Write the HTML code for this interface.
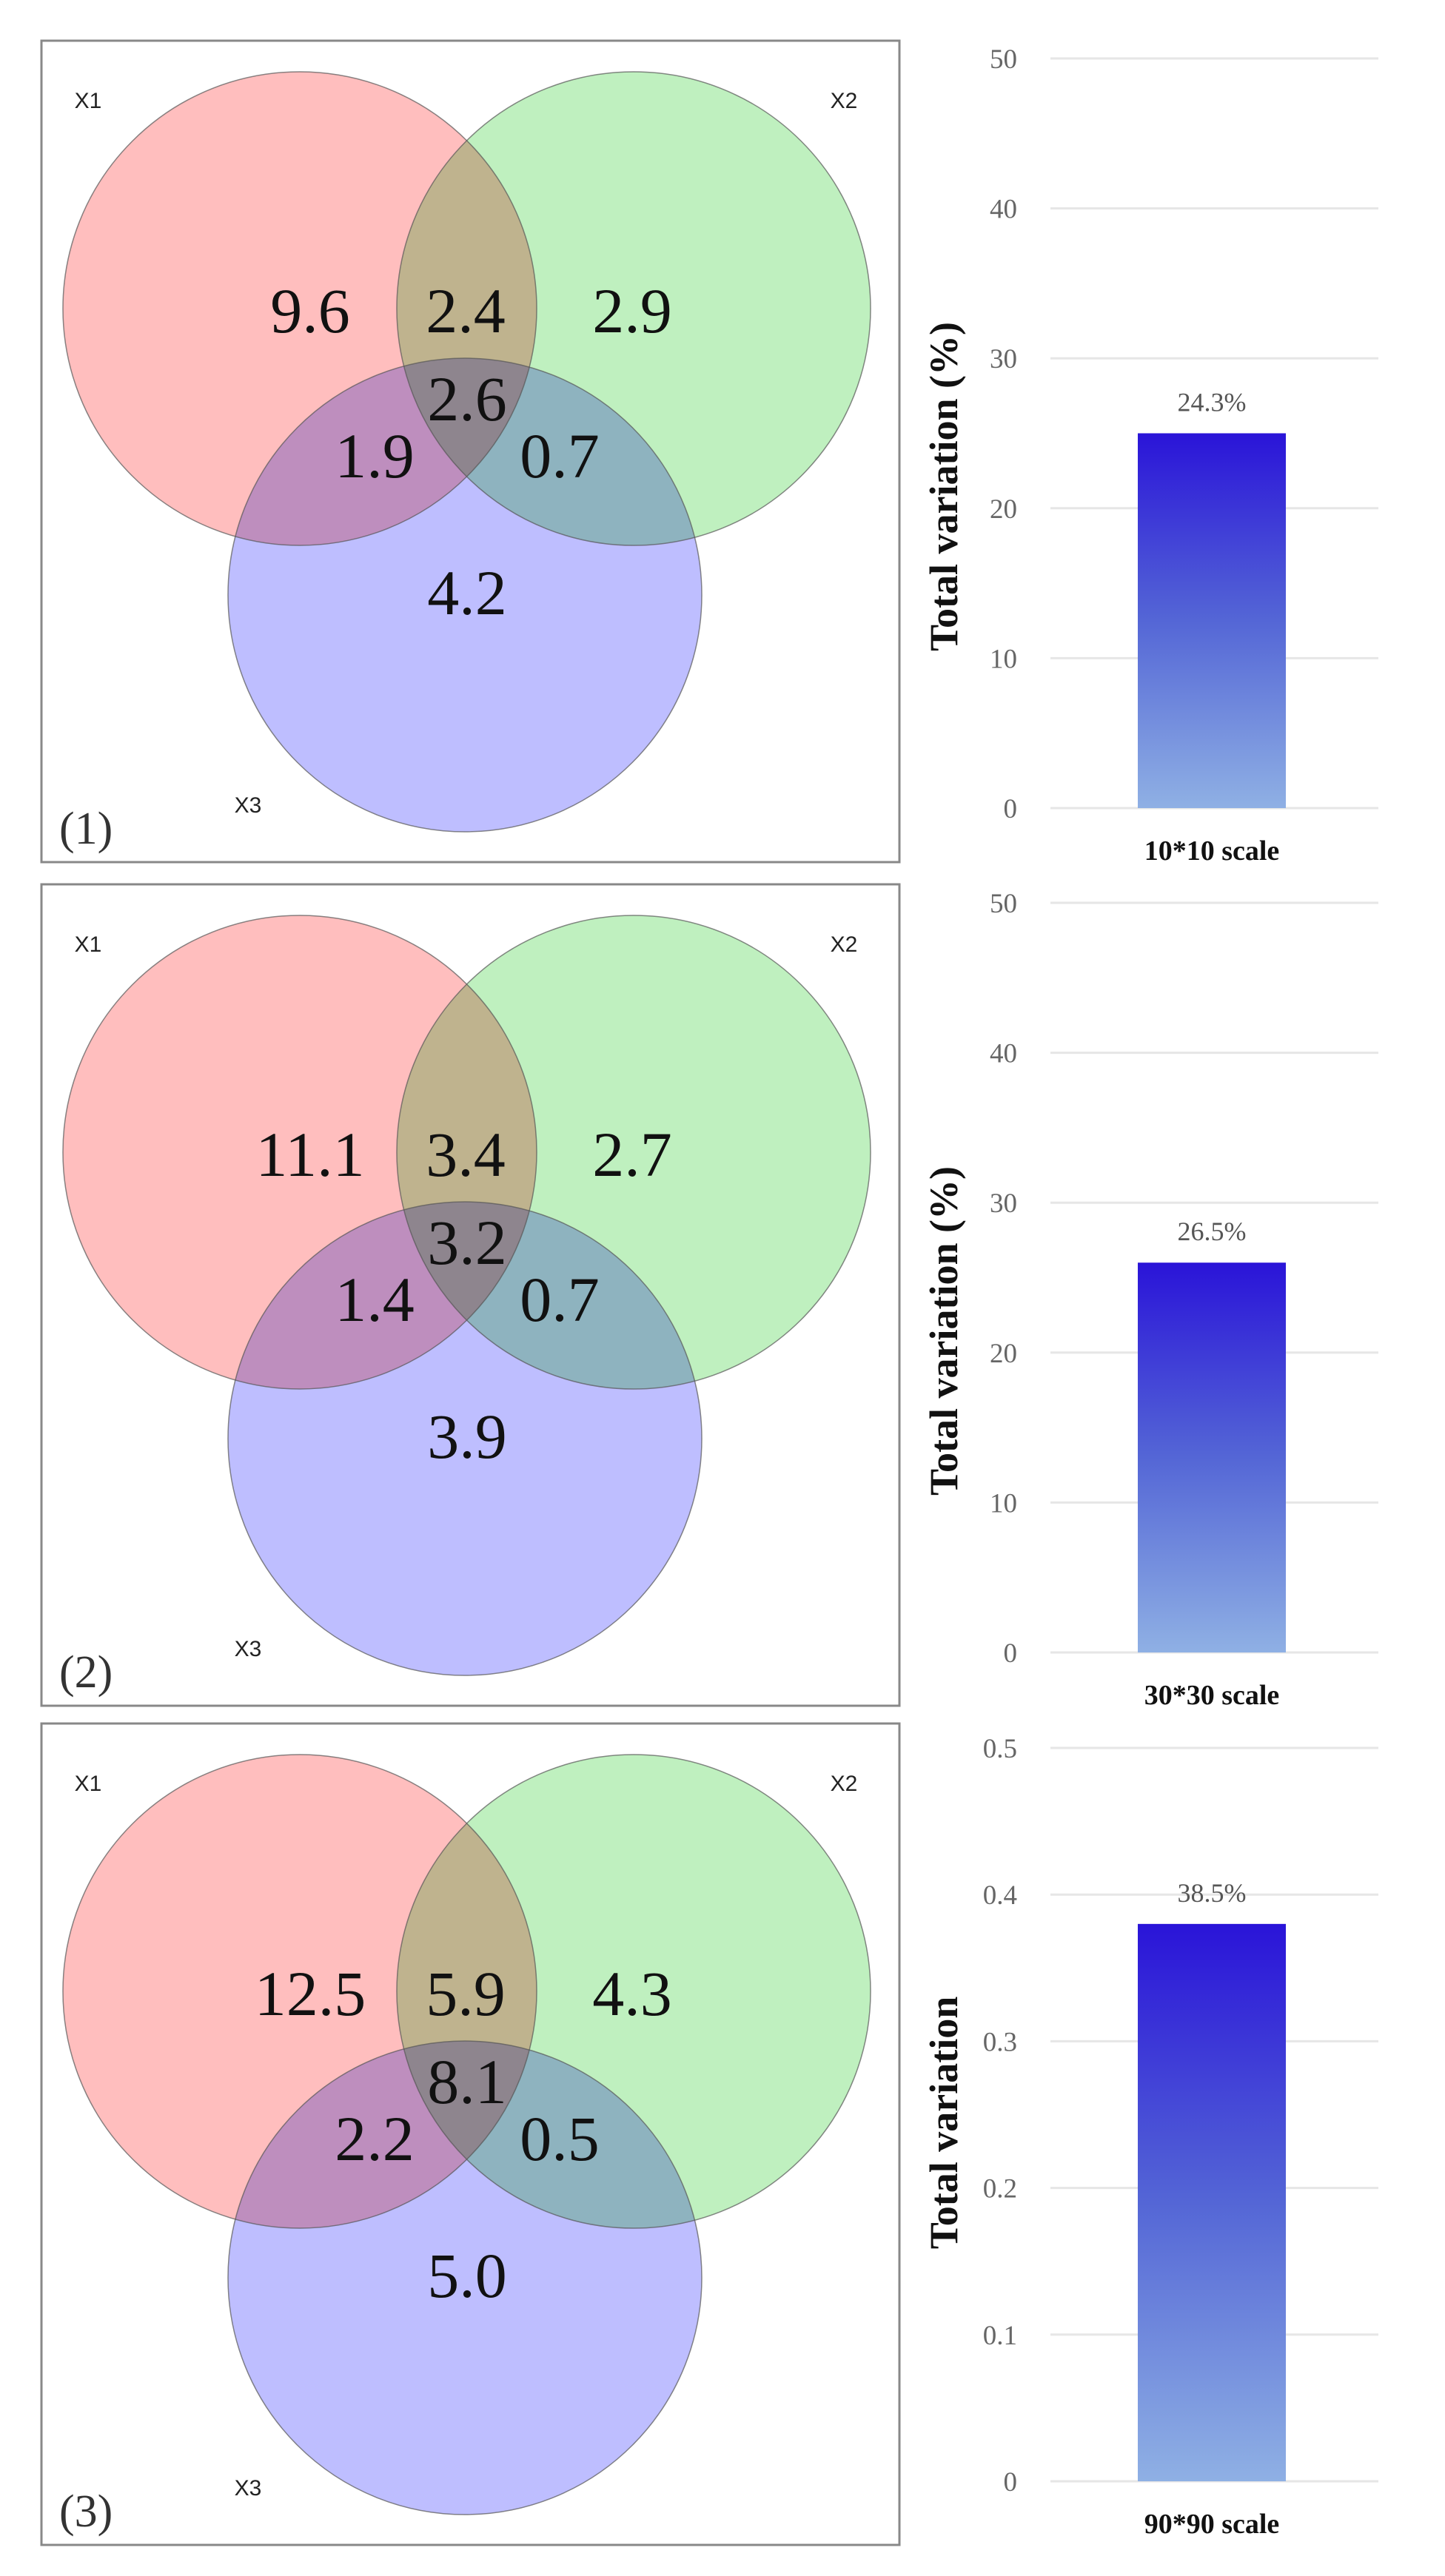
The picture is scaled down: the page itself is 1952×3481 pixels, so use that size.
<!DOCTYPE html>
<html><head><meta charset="utf-8">
<style>
html,body{margin:0;padding:0;background:#fff;}
svg{display:block;}
.num{font-family:"Liberation Serif",serif;font-size:86px;fill:#111;text-anchor:middle;}
.set{font-family:"Liberation Sans",sans-serif;font-size:30px;fill:#222;text-anchor:middle;}
.pl{font-family:"Liberation Serif",serif;font-size:62px;fill:#333;}
.tick{font-family:"Liberation Serif",serif;font-size:37px;fill:#666;text-anchor:end;}
.ttl{font-family:"Liberation Serif",serif;font-size:54px;font-weight:bold;fill:#111;text-anchor:middle;}
.vl{font-family:"Liberation Serif",serif;font-size:36px;fill:#555;text-anchor:middle;}
.xl{font-family:"Liberation Serif",serif;font-size:38px;font-weight:bold;fill:#111;text-anchor:middle;}
</style></head>
<body>
<svg id="fig" width="1952" height="3481" viewBox="0 0 1952 3481" xmlns="http://www.w3.org/2000/svg">
<defs>
<linearGradient id="bg" x1="0" y1="0" x2="0" y2="1">
<stop offset="0" stop-color="#2a14d8"/><stop offset="0.5" stop-color="#5466d6"/><stop offset="1" stop-color="#8fb0e4"/>
</linearGradient>
</defs>
</svg>
<script>
// Venn region values per panel: [x1 only, x1∩x2, x2 only, all, x1∩x3, x2∩x3, x3 only]
var vennPanel1 = ["9.6","2.4","2.9","2.6","1.9","0.7","4.2"];
var vennPanel2 = ["11.1","3.4","2.7","3.2","1.4","0.7","3.9"];
var vennPanel3 = ["12.5","5.9","4.3","8.1","2.2","0.5","5.0"];
var panelLabels = ["(1)","(2)","(3)"];
var barCategories = ["10*10 scale","30*30 scale","90*90 scale"];
var barValues = [25.0, 26.0, 0.38];
var barLabels = ["24.3%","26.5%","38.5%"];
var axisMax = [50, 50, 0.5];
var tickLabels1 = ["0","10","20","30","40","50"];
var tickLabels2 = ["0","10","20","30","40","50"];
var tickLabels3 = ["0","0.1","0.2","0.3","0.4","0.5"];
var axisTitles = ["Total variation (%)","Total variation (%)","Total variation"];

var SVGNS="http://www.w3.org/2000/svg";
var figSvg=document.getElementById('fig');
function mk(tag,attrs,parent,text){var e=document.createElementNS(SVGNS,tag);for(var k in attrs)e.setAttribute(k,attrs[k]);if(text!==undefined)e.textContent=text;(parent||figSvg).appendChild(e);return e;}

var vennSets=[vennPanel1,vennPanel2,vennPanel3];
var tickSets=[tickLabels1,tickLabels2,tickLabels3];
var boxOff=[0,1140,2274];
var axTopArr=[79,1220,2362];
var axBotArr=[1092,2233,3353];

function drawVenn(p){
  var oy=boxOff[p];
  var g=mk('g',{transform:'translate(0,'+oy+')'});
  
  
  var box=mk('rect',{x:56,y:55,width:1159,height:1110,fill:'#fff',stroke:'#888','stroke-width':3},g);
  
  
  var circles=[[405,417,'#ffbebe','circle-x1'],[856,417,'#bff0bf','circle-x2'],[628,804,'#bebeff','circle-x3']];
  var cg=mk('g',{style:'isolation:isolate'},g);
  circles.forEach(function(c){
    var ci=mk('circle',{cx:c[0],cy:c[1],r:320,fill:c[2],style:'mix-blend-mode:multiply'},cg);
    
    
  });
  circles.forEach(function(c){mk('circle',{cx:c[0],cy:c[1],r:320,fill:'none',stroke:'#555','stroke-width':1.5,'stroke-opacity':0.7},g);});
  var pos=[[419,419],[629,419],[854,419],[631,538],[506,615],[756,615],[631,800]];
  vennSets[p].forEach(function(v,i){
    var t=mk('text',{x:pos[i][0],y:pos[i][1]+30,class:'num'},g,v);
    
    
  });
  [['X1',119,146],['X2',1140,146],['X3',335,1098]].forEach(function(s){
    var t=mk('text',{x:s[1],y:s[2],class:'set'},g,s[0]);
    
    
  });
  var pl=mk('text',{x:80,y:1140,class:'pl'},g,panelLabels[p]);
  
  
}

function drawBar(p){
  var yTop=axTopArr[p],yBot=axBotArr[p],mxv=axisMax[p];
  function yS(v){return yBot-(v/mxv)*(yBot-yTop);}
  var bgp=mk('g',{});
  
  
  var tl=tickSets[p];
  tl.forEach(function(lab,i){
    var v=mxv*i/(tl.length-1);
    var y=yS(v);
    var gl=mk('line',{x1:1419,x2:1862,y1:y,y2:y,stroke:'#e6e6e6','stroke-width':3},bgp);
    
    
    var tt=mk('text',{x:1374,y:y+13,class:'tick'},bgp,lab);
    
    
  });
  var by=yS(barValues[p]);
  var bar=mk('rect',{x:1537,y:by,width:200,height:yBot-by,fill:'url(#bg)'},bgp);
  
  
  var vl=mk('text',{x:1637,y:by-30,class:'vl'},bgp,barLabels[p]);
  
  
  var xl=mk('text',{x:1637,y:yBot+70,class:'xl'},bgp,barCategories[p]);
  
  
  var tcy=p<2?(yTop+yBot)/2+72:(yTop+yBot)/2+11;
  var at=mk('text',{x:1275,y:tcy+18,class:'ttl',transform:'rotate(-90 1275 '+tcy+')'},bgp,axisTitles[p]);
  
  
}

for(var pi=0;pi<3;pi++){
  try{drawVenn(pi);}catch(e){}
  try{drawBar(pi);}catch(e){}
}
</script>
</body></html>
